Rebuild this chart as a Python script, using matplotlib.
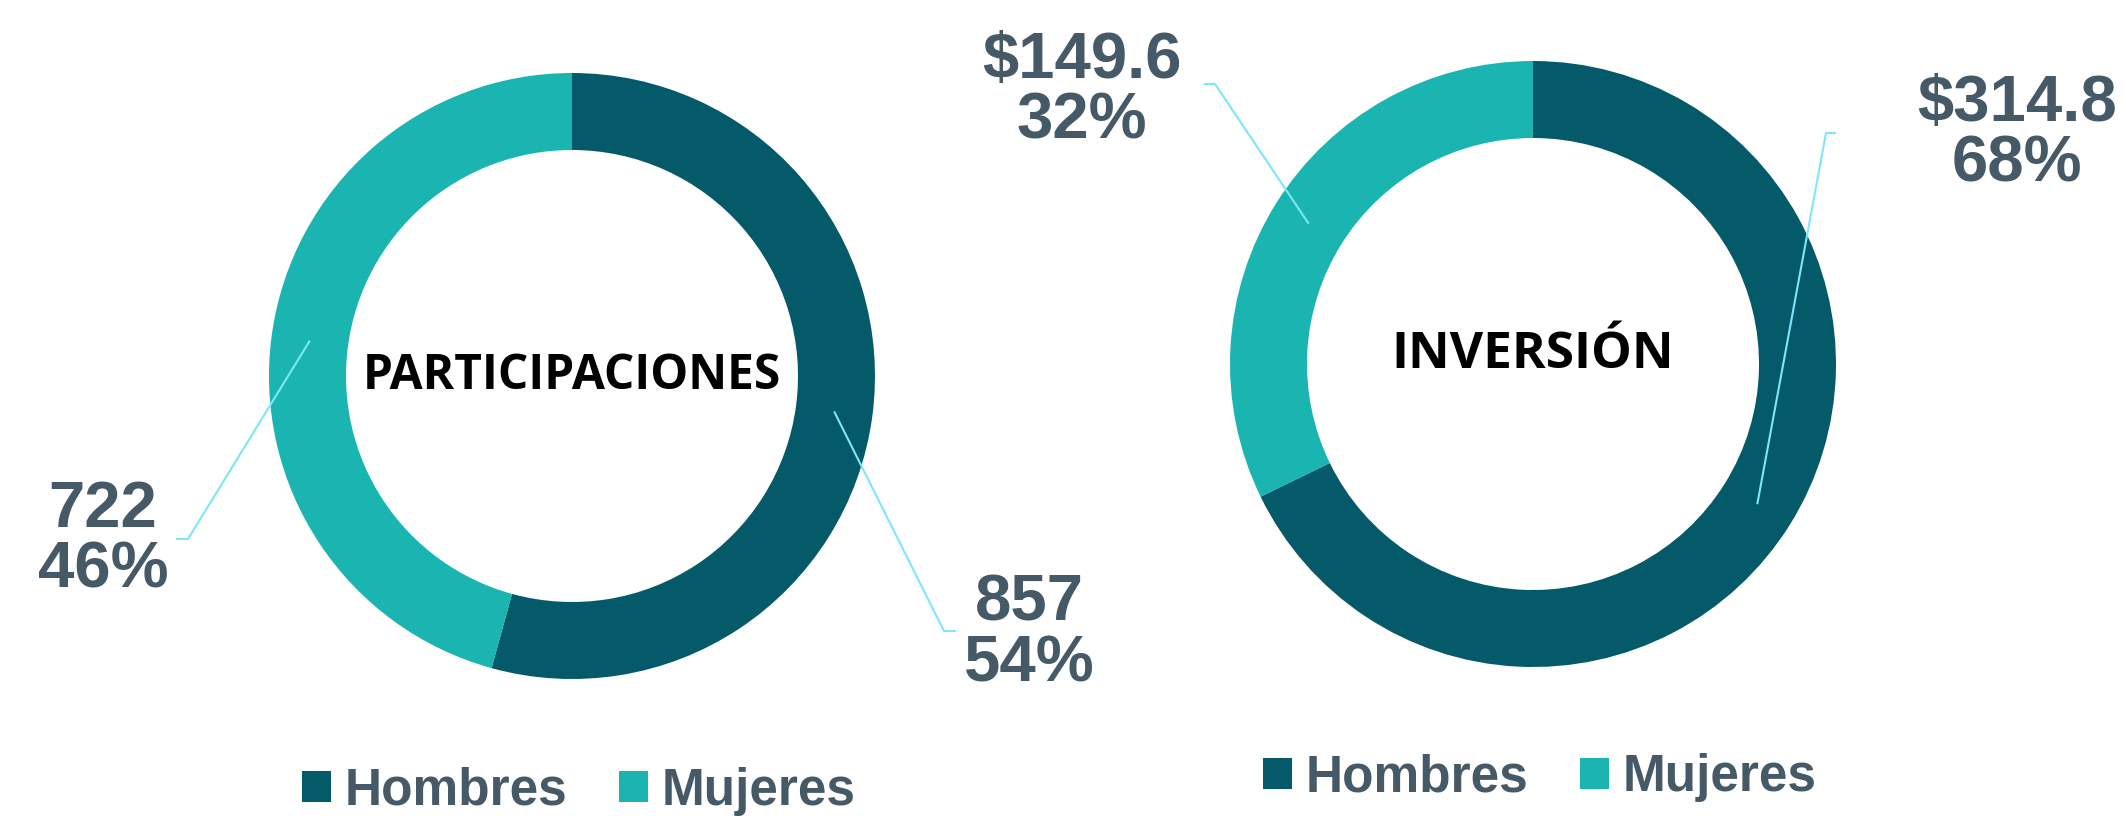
import matplotlib
matplotlib.use('Agg')
import matplotlib.pyplot as plt
import numpy as np

# ---------------- data ----------------
categories = ['Hombres', 'Mujeres']
participaciones = [857, 722]
inversion = [314.8, 149.6]
titles = ['PARTICIPACIONES', 'INVERSIÓN']

# ---------------- style ----------------
colors = ['#055A69', '#1AB5B1']
text_color = '#465966'
line_color = '#7DE6F8'
W, H = 2126, 816

fig = plt.figure(figsize=(W / 100, H / 100), dpi=100)
ax = fig.add_axes([0, 0, 1, 1])


def py(y):
    return H - y


label_font = dict(family=['Liberation Sans', 'DejaVu Sans'], weight='bold', size=47)

charts = [
    dict(values=participaciones, fmt='{:.0f}', title=titles[0], center=(572, 376), title_base=389,
         title_size=34.5,
         label_pos=[(1029, 634), (103, 540)], elbow=[(944, 631), (188, 539)], tail=[12, -12],
         legend=(579, 791)),
    dict(values=inversion, fmt='${:.1f}', title=titles[1], center=(1533, 364), title_base=368,
         title_size=37,
         label_pos=[(2017, 134), (1082, 91)], elbow=[(1826, 133), (1215, 84)], tail=[10, -11],
         legend=(1540, 778)),
]

R_OUT, WIDTH = 303, 77

for ch in charts:
    cx, cy = ch['center']
    vals = np.array(ch['values'], dtype=float)
    wedges, _ = ax.pie(vals, colors=colors, startangle=90, counterclock=False,
                       radius=R_OUT, center=(cx, py(cy)),
                       wedgeprops=dict(width=WIDTH, edgecolor='none'))
    pct = vals / vals.sum() * 100
    r_mid = R_OUT - WIDTH / 2
    for i, w in enumerate(wedges):
        ang = np.deg2rad((w.theta1 + w.theta2) / 2)
        x0 = cx + r_mid * np.cos(ang)
        y0 = py(cy) + r_mid * np.sin(ang)
        ex, ey = ch['elbow'][i]
        ax.plot([x0, ex, ex + ch['tail'][i]], [y0, py(ey), py(ey)],
                color=line_color, lw=1.5, solid_capstyle='butt', zorder=3)
        lx, ly = ch['label_pos'][i]
        ax.text(lx, py(ly), ch['fmt'].format(vals[i]) + '\n' + f'{pct[i]:.0f}%',
                ha='center', va='center', color=text_color, linespacing=1.02,
                **label_font)
    ax.text(cx, py(ch['title_base']), ch['title'], ha='center', va='baseline',
            color='black', family=['Open Sans', 'DejaVu Sans'], weight='bold',
            size=ch['title_size'])
    lgx, lgy = ch['legend']
    fig.legend(handles=wedges, labels=categories, loc='center',
               bbox_to_anchor=(lgx / W, 1 - lgy / H), bbox_transform=fig.transFigure,
               ncol=2, frameon=False,
               prop=dict(family=['Liberation Sans', 'DejaVu Sans'], weight='bold', size=37),
               labelcolor=text_color, handlelength=0.56, handleheight=0.56,
               handletextpad=0.27, columnspacing=1.0, borderpad=0, borderaxespad=0)

ax.set_xlim(0, W)
ax.set_ylim(0, H)
ax.set_aspect('equal')
ax.axis('off')

fig.savefig('out.png', dpi=100, facecolor='white')
